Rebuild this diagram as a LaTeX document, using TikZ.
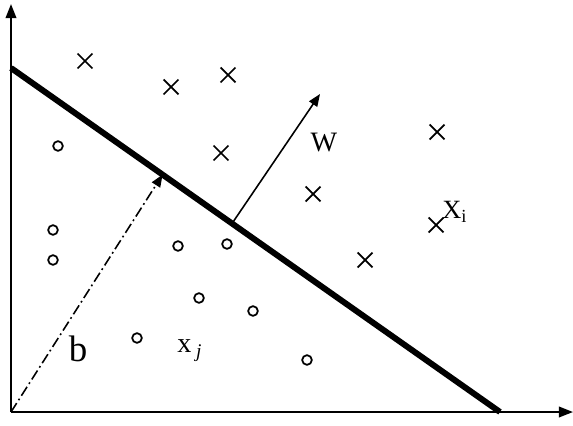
\documentclass[tikz,border=0pt]{standalone}
\usepackage{fontspec}
\setmainfont{Liberation Serif}
\usetikzlibrary{arrows.meta,shapes.misc,calc}

\begin{document}
\begin{tikzpicture}[
    x=0.02cm,y=-0.02cm,
    axis/.style={line width=1.1pt,-{Triangle[length=8pt,width=6pt]}},
    plane/.style={line width=3.4pt},
    vec/.style={line width=0.9pt,-{Triangle[length=7pt,width=5.5pt]}},
    cross/.style={cross out,draw,line width=1pt,minimum size=7.5pt,inner sep=0pt},
    dot/.style={circle,draw,line width=1pt,minimum size=5.5pt,inner sep=0pt},
    lbl/.style={font=\fontsize{16}{18}\selectfont,inner sep=0pt},
  ]
    \useasboundingbox (0,0) rectangle (573,425);
    % axes
    \coordinate (o) at (11,412);
    \coordinate (ytop) at (11,4);
    \coordinate (xend) at (573,412);
    \draw[axis] (o) -- (ytop);
    \draw[axis] (o) -- (xend);
    % separating line
    \coordinate (h1) at (11,68);
    \coordinate (h2) at (500,412);
    \draw[plane] (h1) -- (h2);
    % normal vector and offset
    \coordinate (wbase) at ($(h1)!0.452!(h2)$);
    \coordinate (wtip) at (320,94);
    \coordinate (bfoot) at ($(h1)!0.31!(h2)$);
    \draw[vec] (wbase) -- (wtip);
    \draw[vec,dash pattern=on 6pt off 2pt on 1pt off 2pt] (o) -- (bfoot);
    \node[lbl] (wl) at (324,143) {W};
    \node[lbl,font=\fontsize{21}{24}\selectfont] (bl) at (78,349) {b};
    % class +1
    \node[cross] (p1) at (85,61) {};
    \node[cross] (p2) at (171,87) {};
    \node[cross] (p3) at (228,75) {};
    \node[cross] (p4) at (221,153) {};
    \node[cross] (p5) at (313,194) {};
    \node[cross] (p6) at (365,260) {};
    \node[cross] (p7) at (437,132) {};
    \node[cross] (p8) at (436,225) {};
    \node[lbl,font=\fontsize{15}{17}\selectfont,anchor=south west] (xil) at (442,223) {X\textsubscript{i}};
    % class -1
    \node[dot] (n1) at (58,146) {};
    \node[dot] (n2) at (53,230) {};
    \node[dot] (n3) at (53,260) {};
    \node[dot] (n4) at (178,246) {};
    \node[dot] (n5) at (227,244) {};
    \node[dot] (n6) at (199,298) {};
    \node[dot] (n7) at (253,311) {};
    \node[dot] (n8) at (137,338) {};
    \node[dot] (n9) at (307,360) {};
    \node[lbl,anchor=base west] (xjl) at (177,352) {x\,\raisebox{-3pt}{\fontsize{11}{12}\selectfont\itshape j}};
\end{tikzpicture}
\end{document}
